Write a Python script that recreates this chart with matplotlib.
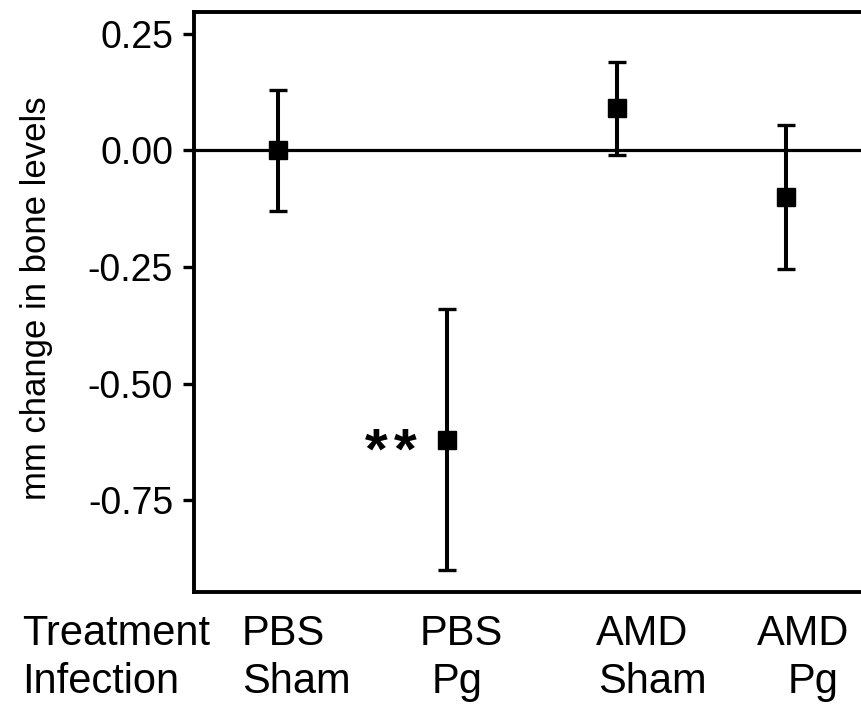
import matplotlib
matplotlib.use("Agg")
import matplotlib.pyplot as plt

# group order as drawn left to right
treatment = ["PBS", "PBS", "AMD", "AMD"]
infection = ["Sham", "Pg", "Sham", "Pg"]
mean_change = [0.00, -0.62, 0.09, -0.10]
err = [0.13, 0.28, 0.10, 0.155]
yticks = [0.25, 0.00, -0.25, -0.50, -0.75]

plt.rcParams["font.family"] = ["Liberation Sans", "DejaVu Sans"]

fig = plt.figure(figsize=(8.61, 7.05), dpi=100)
ax = fig.add_axes([0.2253, 0.1603, 0.7747, 0.8227])

xs = list(range(1, len(mean_change) + 1))
ax.axhline(0, color="black", lw=2.3, zorder=1)
ax.errorbar(xs, mean_change, yerr=err, fmt="s", color="black", ms=13.5,
            elinewidth=2.9, capsize=6.8, capthick=2.4, zorder=3)

ax.set_xlim(0.504, 4.442)
ax.set_ylim(-0.947, 0.297)
ax.set_yticks(yticks)
ax.set_yticklabels([f"{v:.2f}" for v in yticks], fontsize=27)
ax.tick_params(axis="y", length=8, width=2.4, pad=7)
ax.set_xticks([])

for side in ["left", "top", "bottom"]:
    ax.spines[side].set_linewidth(2.8)
ax.spines["right"].set_visible(False)

# significance mark next to PBS / Pg, two separate stars
for dx in [-0.419, -0.248]:
    ax.text(xs[1] + dx, mean_change[1] - 0.03, "*", fontsize=42, fontweight="bold",
            ha="center", va="center")

# two-row category labels under the axis
row1_dx = [0.03, 0.083, 0.147, 0.10]
row2_dx = [0.106, 0.06, 0.21, 0.16]
tr = ax.get_xaxis_transform()
for i, x in enumerate(xs):
    ax.text(x + row1_dx[i], -0.0914, treatment[i], transform=tr, fontsize=30,
            ha="center", va="baseline")
    ax.text(x + row2_dx[i], -0.1742, infection[i], transform=tr, fontsize=30,
            ha="center", va="baseline")

fig.text(22 / 861, 1 - 645 / 705, "Treatment", fontsize=30, ha="left", va="baseline")
fig.text(22 / 861, 1 - 693 / 705, "Infection", fontsize=30, ha="left", va="baseline")

fig.text(37 / 861, 1 - 298 / 705, "mm change in bone levels", fontsize=25,
         rotation=90, ha="center", va="center")

fig.savefig("out.png", dpi=100)
